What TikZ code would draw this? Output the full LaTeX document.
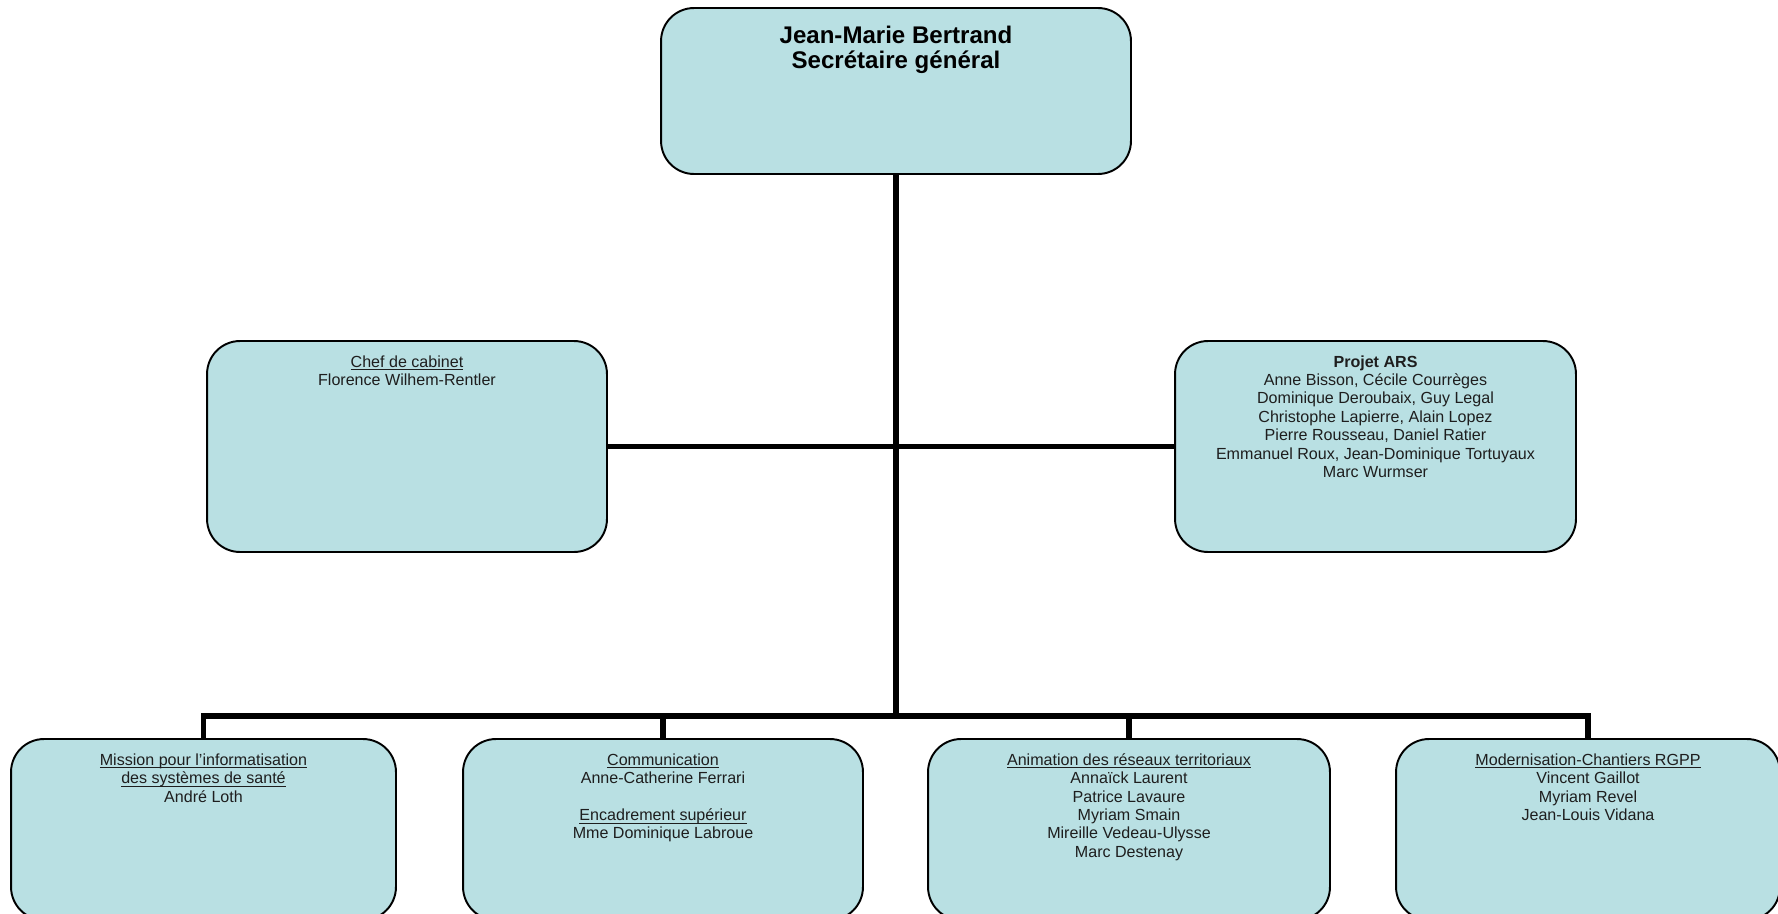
\documentclass[tikz,border=0pt]{standalone}
\usepackage{fontspec}
\setmainfont{Liberation Sans}
\usetikzlibrary{positioning}
\definecolor{boxfill}{HTML}{B9E0E3}
\definecolor{ink}{HTML}{1E1E1E}
\newcommand\uln[1]{\underline{\rule{0pt}{0.73em}\smash{#1}}}
\tikzset{
  unit/.style={rounded corners=0.66cm, draw=black, line width=1.1pt, fill=boxfill},
  tag/.style={anchor=north, align=center, inner sep=0pt, text=ink,
              font=\fontsize{9.15}{10.5}\selectfont},
  head/.style={anchor=north, align=center, inner sep=0pt, text=black,
               font=\fontsize{13.7}{14.2}\selectfont\bfseries},
  link/.style={line width=3.4pt, draw=black},
}
\begin{document}
\begin{tikzpicture}[x=0.02cm, y=-0.02cm]
  \clip (0,0) rectangle (1778,913);
  % boxes
  \node[unit, minimum width=9.4cm, minimum height=3.32cm] (sg) at (896,91) {};
  \node[unit, minimum width=8cm, minimum height=4.22cm] (cab) at (407,446.5) {};
  \node[unit, minimum width=8.02cm, minimum height=4.22cm] (ars) at (1375.5,446.5) {};
  \node[unit, minimum width=7.7cm, minimum height=3.62cm] (mis) at (203.5,829.5) {};
  \node[unit, minimum width=8cm, minimum height=3.62cm] (com) at (663,829.5) {};
  \node[unit, minimum width=8.04cm, minimum height=3.62cm] (ani) at (1129,829.5) {};
  \node[unit, minimum width=7.68cm, minimum height=3.62cm] (mod) at (1588,829.5) {};
  % texts
  \node[head] (sgtxt) at ([yshift=-0.37cm]sg.north)
        {Jean-Marie Bertrand\\Secrétaire général};
  \node[tag] (cabtxt) at ([yshift=-0.3cm]cab.north)
        {\uln{Chef de cabinet}\\Florence Wilhem-Rentler};
  \node[tag] (arstxt) at ([yshift=-0.3cm]ars.north)
        {\textbf{Projet ARS}\\Anne Bisson, Cécile Courrèges\\Dominique Deroubaix, Guy Legal\\
         Christophe Lapierre, Alain Lopez\\Pierre Rousseau, Daniel Ratier\\
         Emmanuel Roux, Jean-Dominique Tortuyaux\\Marc Wurmser};
  \node[tag] (mistxt) at ([yshift=-0.3cm]mis.north)
        {\uln{Mission pour l’informatisation}\\\uln{des systèmes de santé}\\André Loth};
  \node[tag] (comtxt) at ([yshift=-0.3cm]com.north)
        {\uln{Communication}\\Anne-Catherine Ferrari\\[10.5pt]
         \uln{Encadrement supérieur}\\Mme Dominique Labroue};
  \node[tag] (anitxt) at ([yshift=-0.3cm]ani.north)
        {\uln{Animation des réseaux territoriaux}\\Annaïck Laurent\\Patrice Lavaure\\
         Myriam Smain\\Mireille Vedeau-Ulysse\\Marc Destenay};
  \node[tag] (modtxt) at ([yshift=-0.3cm]mod.north)
        {\uln{Modernisation-Chantiers RGPP}\\Vincent Gaillot\\Myriam Revel\\Jean-Louis Vidana};
  % connectors
  \coordinate (bus) at (896,716);
  \draw[link] (sg) -- (bus);
  \draw[link] (cab) -- (ars);
  \draw[link] (mis.north) |- (bus) -| (mod.north);
  \draw[link] (com.north) -- (com.north |- bus);
  \draw[link] (ani.north) -- (ani.north |- bus);
\end{tikzpicture}
\end{document}
